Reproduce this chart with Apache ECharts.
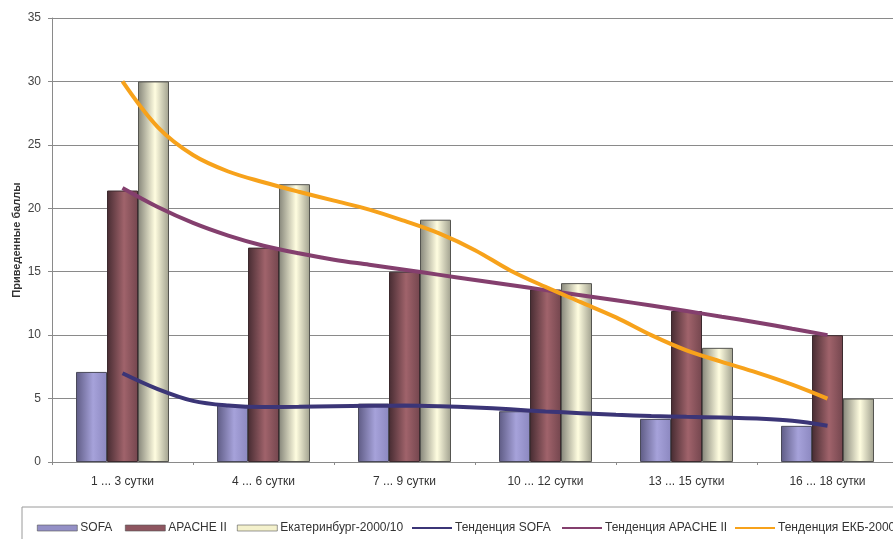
<!DOCTYPE html>
<html>
<head>
<meta charset="utf-8">
<script src="https://cdn.jsdelivr.net/npm/echarts@6/dist/echarts.min.js"></script>
<style>
  html, body { margin: 0; padding: 0; background: #fff; }
  #chart { width: 893px; height: 539px; }
</style>
</head>
<body>
<div id="chart"></div>
<script>
// Periods of observation
const categories = ['1 ... 3 сутки', '4 ... 6 сутки', '7 ... 9 сутки', '10 ... 12 сутки', '13 ... 15 сутки', '16 ... 18 сутки'];

// Reduced scores per period
const sofa = [7.1, 4.5, 4.6, 4.0, 3.4, 2.85];
const apache = [21.4, 16.9, 15.0, 13.6, 11.9, 10.0];
const ekb = [30.0, 21.9, 19.1, 14.1, 9.0, 5.0];

// Trend curves: [position in category units, value]
const trendSofa = [
  [0.50, 7.0], [0.75, 5.75], [1.00, 4.82], [1.25, 4.45], [1.50, 4.33], [1.75, 4.35],
  [2.00, 4.40], [2.25, 4.43], [2.50, 4.45], [2.75, 4.40], [3.00, 4.30], [3.25, 4.15],
  [3.50, 3.98], [3.75, 3.85], [4.00, 3.72], [4.25, 3.63], [4.50, 3.56], [4.75, 3.50],
  [5.00, 3.42], [5.25, 3.25], [5.50, 2.86]
];
const trendApache = [
  [0.50, 21.6], [0.75, 20.1], [1.00, 18.85], [1.25, 17.85], [1.50, 17.05], [1.75, 16.45],
  [2.00, 15.95], [2.25, 15.55], [2.50, 15.15], [2.75, 14.75], [3.00, 14.35], [3.25, 13.95],
  [3.50, 13.55], [3.75, 13.15], [4.00, 12.75], [4.25, 12.33], [4.50, 11.9], [4.75, 11.45],
  [5.00, 11.0], [5.25, 10.5], [5.50, 10.0]
];
const trendEkb = [
  [0.50, 30.0], [0.75, 26.4], [1.00, 24.2], [1.25, 22.9], [1.50, 22.05],
  [1.75, 21.3], [2.00, 20.6], [2.25, 19.9], [2.50, 19.0], [2.75, 18.0], [3.00, 16.7],
  [3.25, 15.1], [3.50, 13.8], [3.75, 12.6], [4.00, 11.4], [4.25, 10.0], [4.50, 8.8],
  [4.75, 7.9], [5.00, 7.05], [5.25, 6.1], [5.50, 5.0]
];

// Y axis ticks
const yMin = 0, yMax = 35, yStep = 5;

const names = ['SOFA', 'APACHE II', 'Екатеринбург-2000/10', 'Тенденция SOFA', 'Тенденция APACHE II', 'Тенденция ЕКБ-2000'];

function cylinder(dark, light, mid) {
  return new echarts.graphic.LinearGradient(0, 0, 1, 0, [
    { offset: 0, color: dark },
    { offset: 0.55, color: light },
    { offset: 1, color: mid }
  ]);
}

const font = '"Liberation Sans", Arial, sans-serif';
const legendLefts = [37, 125, 237, 412, 562, 735];
const legendSolid = ['#9490c6', '#8e5660', '#f4f1cc', '#3b3577', '#843f6e', '#f7a21b'];

const legends = names.map((n, i) => ({
  left: legendLefts[i],
  top: 522,
  orient: 'horizontal',
  itemWidth: 40,
  itemHeight: i < 3 ? 6 : 2,
  itemGap: 0,
  padding: 0,
  textStyle: { fontSize: 12, color: '#333', fontFamily: font, padding: [0, 0, 0, -2] },
  data: [{
    name: n,
    icon: 'rect',
    itemStyle: { color: legendSolid[i], borderColor: i < 3 ? '#555' : legendSolid[i], borderWidth: i < 3 ? 0.6 : 0 }
  }]
}));

const trendLine = (color) => ({
  type: 'line', xAxisIndex: 1, smooth: 0.35,
  symbol: 'none', z: 5, lineStyle: { color: color, width: 4 }
});

const chart = echarts.init(document.getElementById('chart'), null, { renderer: 'canvas' });

chart.setOption({
  backgroundColor: '#fff',
  animation: false,
  textStyle: { fontFamily: font },
  grid: { left: 52, right: -5, top: 18, bottom: 77, containLabel: false, outerBoundsMode: 'none' },
  legend: legends,
  graphic: [{
    type: 'rect',
    shape: { x: 22, y: 507, width: 900, height: 60 },
    style: { fill: 'none', stroke: '#9a9a9a', lineWidth: 1 },
    silent: true
  }],
  xAxis: [{
    type: 'category',
    data: categories,
    axisLine: { lineStyle: { color: '#8a8a8a', width: 1 } },
    axisTick: { show: true, length: 3, lineStyle: { color: '#8a8a8a' } },
    axisLabel: { fontSize: 12, color: '#333', margin: 14, fontFamily: font },
    splitLine: { show: false }
  }, {
    type: 'value',
    min: 0, max: 6,
    show: false
  }],
  yAxis: {
    type: 'value',
    min: yMin, max: yMax, interval: yStep,
    name: 'Приведенные баллы',
    nameLocation: 'middle',
    nameGap: 30,
    nameMoveOverlap: false,
    nameTextStyle: { fontSize: 11, fontWeight: 'bold', color: '#333', fontFamily: font },
    axisLine: { show: true, lineStyle: { color: '#8a8a8a' } },
    axisTick: { show: true, length: 4, lineStyle: { color: '#8a8a8a' } },
    axisLabel: { fontSize: 12, color: '#444', margin: 11, fontFamily: font },
    splitLine: { lineStyle: { color: '#8a8a8a', width: 1 } }
  },
  series: [
    {
      name: names[0], type: 'bar', xAxisIndex: 0, data: sofa,
      barWidth: 31, barGap: '0%',
      itemStyle: { color: cylinder('#5e5b84', '#a6a2da', '#8c88c0'), borderColor: '#4a4a5a', borderWidth: 1 }
    },
    {
      name: names[1], type: 'bar', xAxisIndex: 0, data: apache,
      barWidth: 31, barGap: '0%',
      itemStyle: { color: cylinder('#472c32', '#a0636b', '#74464e'), borderColor: '#3c2a2e', borderWidth: 1 }
    },
    {
      name: names[2], type: 'bar', xAxisIndex: 0, data: ekb,
      barWidth: 31, barGap: '0%',
      itemStyle: { color: cylinder('#86867a', '#fffde0', '#a0a08e'), borderColor: '#555550', borderWidth: 1 }
    },
    Object.assign(trendLine('#3b3577'), { name: names[3], data: trendSofa }),
    Object.assign(trendLine('#843f6e'), { name: names[4], data: trendApache }),
    Object.assign(trendLine('#f7a21b'), { name: names[5], data: trendEkb })
  ]
});
</script>
</body>
</html>
